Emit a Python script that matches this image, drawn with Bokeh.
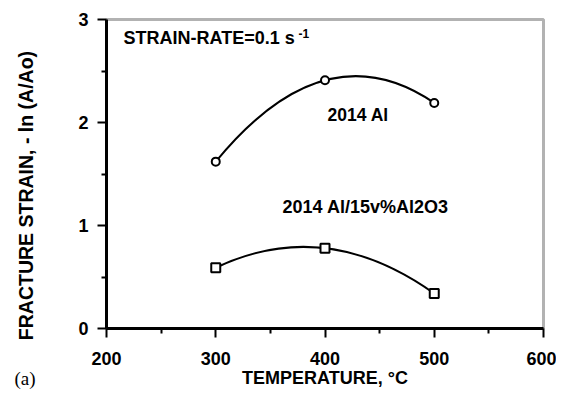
import math
from bokeh.plotting import figure
from bokeh.models import Label, Range1d, FixedTicker, BoxAnnotation
from bokeh.embed import file_html
from bokeh.resources import INLINE

# data
temps = [300, 400, 500]
al_2014 = [1.62, 2.41, 2.19]
al_composite = [0.59, 0.78, 0.34]
x_ticks = [200, 300, 400, 500, 600]
x_minor = [250, 350, 450, 550]
y_ticks = [0, 1, 2, 3]
y_minor = [0.5, 1.5, 2.5]

FONT = "Liberation Sans"
W, H = 556, 391
# frame of the chart (in canvas pixels) -> data ranges that fill the canvas
FL, FR, FT, FB = 106, 543, 19, 328
xs = (FR - FL) / (x_ticks[-1] - x_ticks[0])
ys = (FB - FT) / (y_ticks[-1] - y_ticks[0])
x_range = Range1d(x_ticks[0] - FL / xs, x_ticks[-1] + (W - FR) / xs)
y_range = Range1d(y_ticks[0] - (H - FB) / ys, y_ticks[-1] + FT / ys)

p = figure(width=W, height=H, output_backend="svg", toolbar_location=None,
           x_range=x_range, y_range=y_range, min_border=0,
           min_border_left=0, min_border_right=0, min_border_top=0, min_border_bottom=0)
p.grid.visible = False
p.outline_line_color = None
p.background_fill_color = "white"
p.border_fill_color = "white"

p.xaxis[0].ticker = FixedTicker(ticks=x_ticks, minor_ticks=x_minor)
p.yaxis[0].ticker = FixedTicker(ticks=y_ticks, minor_ticks=y_minor)
p.xaxis[0].fixed_location = y_ticks[0]
p.yaxis[0].fixed_location = x_ticks[0]
p.xaxis[0].bounds = (x_ticks[0], x_ticks[-1])
p.yaxis[0].bounds = (y_ticks[0], y_ticks[-1])

for ax in (p.xaxis[0], p.yaxis[0]):
    ax.axis_line_width = 3
    ax.axis_line_color = "black"
    ax.major_tick_line_width = 2
    ax.minor_tick_line_width = 2
    ax.major_tick_line_color = "black"
    ax.minor_tick_line_color = "black"
    ax.major_tick_in = 0
    ax.major_tick_out = 9
    ax.minor_tick_in = 0
    ax.minor_tick_out = 5
    ax.major_label_text_font = FONT
    ax.major_label_text_font_style = "bold"
    ax.major_label_text_font_size = "18px"
    ax.major_label_text_color = "black"

p.xaxis.major_label_standoff = 14
p.yaxis.major_label_standoff = 9

p.xaxis.axis_label = "TEMPERATURE, °C"
p.xaxis.axis_label_text_font = FONT
p.xaxis.axis_label_text_font_style = "bold"
p.xaxis.axis_label_text_font_size = "18px"
p.xaxis.axis_label_text_color = "black"
p.xaxis.axis_label_standoff = 0

# plot box (top and right edges)
p.add_layout(BoxAnnotation(left=x_ticks[0], right=x_ticks[-1], bottom=y_ticks[0],
                           top=y_ticks[-1], fill_alpha=0, line_color="black",
                           line_width=3))

# fitted curves (parabola through the three points as a quadratic Bezier)
def ctrl(v):
    return 2 * v[1] - (v[0] + v[2]) / 2

for vals in (al_2014, al_composite):
    p.quadratic(x0=[temps[0]], y0=[vals[0]], x1=[temps[2]], y1=[vals[2]],
                cx=[temps[1]], cy=[ctrl(vals)], line_color="black", line_width=2)

p.scatter(temps, al_2014, marker="circle", size=8, fill_color="white",
          line_color="black", line_width=2)
p.scatter(temps, al_composite, marker="square", size=9, fill_color="white",
          line_color="black", line_width=2)

def lab(x, y, t, size="18px", bold=True, font=FONT, **kw):
    p.add_layout(Label(x=x, y=y, text=t, text_font=font, text_font_size=size,
                       text_font_style="bold" if bold else "normal",
                       text_color="black", **kw))

lab(215.6, 2.728, "STRAIN-RATE=0.1 s")
lab(375.7, 2.816, "-1", size="12px")
lab(402.3, 1.971, "2014 Al", size="17.5px")
lab(361.1, 1.078, "2014 Al/15v%Al2O3")
lab(125.9, 1.291, "FRACTURE STRAIN, - ln (A/Ao)", size="19.5px", angle=math.pi / 2,
    text_align="center", text_baseline="middle")
lab(115.8, -0.592, "(a)", size="19px", bold=False, font="Liberation Serif")

open("out.html", "w").write(file_html(p, INLINE))
